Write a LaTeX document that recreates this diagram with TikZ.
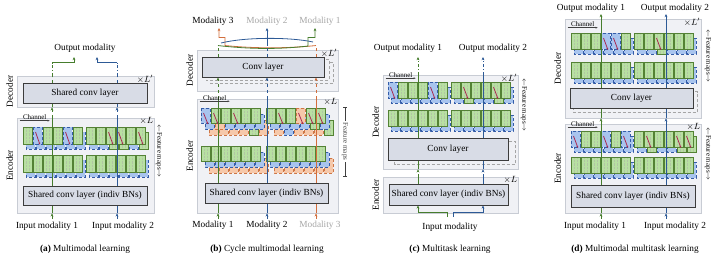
\documentclass[tikz,border=0pt]{standalone}
\usepackage{fontspec}
\setmainfont{Liberation Serif}
\usetikzlibrary{arrows.meta, positioning, calc}
\definecolor{FrameFill}{RGB}{240, 241, 245}
\definecolor{FrameLine}{RGB}{200, 204, 212}
\definecolor{ConvFill}{RGB}{216, 220, 230}
\definecolor{ConvLine}{RGB}{60, 60, 60}
\definecolor{ChanGreen}{RGB}{184, 224, 162}
\definecolor{EdgeGreen}{RGB}{84, 130, 53}
\definecolor{ChanBlue}{RGB}{168, 196, 238}
\definecolor{EdgeBlue}{RGB}{52, 92, 168}
\definecolor{ChanOrange}{RGB}{246, 200, 170}
\definecolor{EdgeOrange}{RGB}{206, 118, 70}
\definecolor{LineGreen}{RGB}{70, 125, 45}
\definecolor{LineBlue}{RGB}{45, 90, 150}
\definecolor{LineOrange}{RGB}{210, 110, 60}
\definecolor{SwapRed}{RGB}{170, 40, 80}
\definecolor{MutedGray}{RGB}{165, 165, 165}

\pgfdeclarelayer{bg}
\pgfdeclarelayer{mid}
\pgfsetlayers{bg,mid,main}

\tikzset{
  panelbox/.style={draw=FrameLine, fill=FrameFill, line width=0.6pt, inner sep=0pt},
  convbox/.style={draw=ConvLine, fill=ConvFill, line width=0.9pt, inner sep=0pt, font=\fontsize{9.3}{11}\selectfont},
  ghostbox/.style={draw=MutedGray, densely dashed, fill=FrameFill, line width=0.6pt},
  gc/.style={draw=EdgeGreen, fill=ChanGreen, line width=0.6pt,
    path picture={\draw[EdgeGreen!45, densely dotted, line width=0.4pt]
      ([xshift=-1.5pt]path picture bounding box.north) -- ([xshift=-1.5pt]path picture bounding box.south)
      ([xshift=1.5pt]path picture bounding box.north) -- ([xshift=1.5pt]path picture bounding box.south);}},
  bc/.style={draw=EdgeBlue, fill=ChanBlue, densely dashed, line width=0.6pt},
  oc/.style={draw=EdgeOrange, fill=ChanOrange, densely dashed, line width=0.6pt},
  nc/.style={draw=none},
  swaparrow/.style={draw=SwapRed, line width=0.8pt, -{Stealth[length=2.2pt,width=2pt]}},
  gline/.style={draw=LineGreen, line width=0.8pt},
  bline/.style={draw=LineBlue, line width=0.8pt},
  oline/.style={draw=LineOrange, line width=0.8pt},
  arrowtip/.style={-{Stealth[length=3.2pt,width=2.8pt]}},
  chanarrow/.style={draw=black!75, line width=0.5pt, -{Stealth[length=2.2pt]}},
  smalltext/.style={font=\fontsize{7}{8}\selectfont, inner sep=0.5pt},
  modtext/.style={font=\fontsize{9.3}{11}\selectfont, inner sep=1pt},
  sidetext/.style={font=\fontsize{9.3}{11}\selectfont, inner sep=1pt, rotate=90},
  repeatmark/.style={font=\fontsize{9}{10}\selectfont, inner sep=1pt, anchor=north east, yshift=2pt},
}

% one row of feature maps: x, y, list of front/middle/back channel styles
\newcommand{\fmaprow}[3]{%
  \foreach \f/\m/\k [count=\i from 0] in {#3}{\draw[\k] (#1+\i*10+2*\ox, #2+2*\oy) rectangle ++(9,\fh);}
  \foreach \f/\m/\k [count=\i from 0] in {#3}{\draw[\m] (#1+\i*10+\ox, #2+\oy) rectangle ++(9,\fh);}
  \foreach \f/\m/\k [count=\i from 0] in {#3}{\draw[\f] (#1+\i*10, #2) rectangle ++(9,\fh);}
}
\newcommand{\chanswaps}[3]{%
  \foreach \i in {#3}{\draw[swaparrow] (#1+\i*10+2.5, #2+5) -- ++(4.5,0.75*\fh);}
}

\begin{document}
\begin{tikzpicture}[x=1pt, y=-1pt]
  \useasboundingbox (0,0) rectangle (718,262);

  % (a)
  \node[convbox, minimum width=124pt, minimum height=20pt] (adec) at (85,93) {Shared conv layer};
  \node[convbox, minimum width=124pt, minimum height=19pt] (aenc) at (85,195.5) {Shared conv layer (indiv BNs)};
  \begin{pgfonlayer}{bg}
    \node[panelbox, minimum width=137pt, minimum height=31pt] (adecf) at (85.5,91.5) {};
    \node[panelbox, minimum width=137pt, minimum height=95pt] (aencf) at (85.5,165.5) {};
    \def\ox{3}\def\oy{5}\def\fh{17}
    \fmaprow{23}{127}{gc/bc/nc, bc/bc/nc, gc/bc/nc, gc/bc/nc, bc/bc/nc, gc/bc/nc}
    \fmaprow{86}{127}{gc/bc/nc, gc/bc/nc, gc/gc/nc, gc/gc/nc, gc/bc/nc, gc/gc/nc}
    \fmaprow{23}{155}{gc/bc/nc, gc/bc/nc, gc/bc/nc, gc/bc/nc, gc/bc/nc, gc/bc/nc}
    \fmaprow{86}{155}{gc/bc/nc, gc/bc/nc, gc/bc/nc, gc/bc/nc, gc/bc/nc, gc/bc/nc}
    \chanswaps{23}{127}{1,4}
    \chanswaps{86}{127}{2,3,5}
  \end{pgfonlayer}
  \node[modtext] (ain1) at (47,226) {Input modality 1};
  \node[modtext] (ain2) at (123,226) {Input modality 2};
  \node[modtext] (aout) at (85,48) {Output modality};
  \node[modtext] (acap) at (85,249) {\textbf{(a)} Multimodal learning};
  \node[sidetext] at ([xshift=-7pt]adecf.west) {Decoder};
  \node[sidetext] at ([xshift=-7pt]aencf.west) {Encoder};
  \node[repeatmark] at (adecf.north east) {$\times L'$};
  \node[repeatmark] at (aencf.north east) {$\times L$};
  \draw[chanarrow] ([shift={(3,3)}]aencf.north west) -- ++(30,0) node[smalltext, midway, above] {Channel};
  \node[smalltext, rotate=-90] (afm) at (159,151) {$\leftarrow$Feature maps$\rightarrow$};
  \coordinate (ag) at (52,219);
  \coordinate (ab) at (117,219);
  \coordinate (agout) at (74,57);
  \coordinate (about) at (97,57);
  \begin{pgfonlayer}{mid}
    \draw[gline, arrowtip] (ag) -- (ag |- aencf.south);
    \draw[gline] (ag |- aencf.south) -- (ag |- aencf.north);
    \draw[gline, dashed, arrowtip] (ag |- aencf.north) -- (ag |- adecf.south);
    \draw[gline, dashed] (ag |- adecf.south) -- (ag |- adecf.north);
    \draw[gline, dash dot] (ag |- adecf.north) -- ++(0,-13) coordinate (agt);
    \draw[gline, arrowtip] (agt) -| (agout);
    \draw[bline, arrowtip] (ab) -- (ab |- aencf.south);
    \draw[bline] (ab |- aencf.south) -- (ab |- aencf.north);
    \draw[bline, dashed, arrowtip] (ab |- aencf.north) -- (ab |- adecf.south);
    \draw[bline, dashed] (ab |- adecf.south) -- (ab |- adecf.north);
    \draw[bline, dash dot] (ab |- adecf.north) -- ++(0,-13) coordinate (abt);
    \draw[bline, arrowtip] (abt) -| (about);
  \end{pgfonlayer}

  % (b)
  \node[convbox, minimum width=122pt, minimum height=20pt] (bdec) at (263,67) {Conv layer};
  \node[convbox, minimum width=123pt, minimum height=20pt] (benc) at (266.5,193) {Shared conv layer (indiv BNs)};
  \begin{pgfonlayer}{bg}
    \node[panelbox, minimum width=141pt, minimum height=41pt] (bdecf) at (267.5,70.5) {};
    \node[panelbox, minimum width=141pt, minimum height=114pt] (bencf) at (267.5,156) {};
    \draw[ghostbox] ([shift={(9,6)}]bdec.north west) rectangle ([shift={(9,6)}]bdec.south east);
    \draw[ghostbox] ([shift={(4.5,3)}]bdec.north west) rectangle ([shift={(4.5,3)}]bdec.south east);
    \def\ox{4}\def\oy{6}\def\fh{15}
    \fmaprow{201}{108}{bc/bc/oc, gc/oc/oc, gc/bc/oc, gc/bc/oc, gc/bc/gc, gc/bc/oc}
    \fmaprow{266}{108}{gc/bc/oc, gc/bc/bc, gc/bc/oc, oc/bc/oc, gc/gc/oc, gc/bc/gc}
    \fmaprow{201}{146}{gc/bc/oc, gc/bc/oc, gc/bc/oc, gc/bc/oc, gc/bc/oc, gc/bc/oc}
    \fmaprow{266}{146}{gc/bc/oc, gc/bc/oc, gc/bc/oc, gc/bc/oc, gc/bc/oc, gc/bc/oc}
    \chanswaps{201}{108}{0,1,3}
    \chanswaps{266}{108}{1,3,4,5}
  \end{pgfonlayer}
  \node[modtext] (bin1) at (213,225) {Modality 1};
  \node[modtext] (bin2) at (267,225) {Modality 2};
  \node[modtext, text=MutedGray] (bin3) at (320,225) {Modality 3};
  \node[modtext] (bout3) at (213,21) {Modality 3};
  \node[modtext, text=MutedGray] (bout2) at (267,21) {Modality 2};
  \node[modtext, text=MutedGray] (bout1) at (320,21) {Modality 1};
  \node[modtext] (bcap) at (267,249) {\textbf{(b)} Cycle multimodal learning};
  \node[sidetext] at ([xshift=-7pt]bdecf.west) {Decoder};
  \node[sidetext] at ([xshift=-7pt]bencf.west) {Encoder};
  \node[repeatmark] at (bdecf.north east) {$\times L'$};
  \node[repeatmark] at (bencf.north east) {$\times L$};
  \draw[chanarrow] ([shift={(3,2.5)}]bencf.north west) -- ++(30,0) node[smalltext, midway, above] {Channel};
  \draw[black!75, line width=0.5pt, {Bar[width=4pt]}-{Bar[width=4pt]}] (345,107) -- (345,176)
    node[smalltext, midway, rotate=-90, fill=white, inner sep=1.5pt] (bfm) {Feature maps};
  \coordinate (bg) at (218,219);
  \coordinate (bb) at (267,219);
  \coordinate (bo) at (316,219);
  \coordinate (bgout) at (315,28);
  \coordinate (bbout) at (267,28);
  \coordinate (boout) at (219,28);
  \coordinate (bba) at (221,43);
  \coordinate (bbb) at (313,42);
  \begin{pgfonlayer}{mid}
    \draw[oline, arrowtip] (bo) -- (bo |- bencf.south);
    \draw[oline] (bo |- bencf.south) -- (bo |- bencf.north);
    \draw[oline, dashed, arrowtip] (bo |- bencf.north) -- (bo |- bdec.south);
    \draw[oline, dashed] (bo |- bdec.north) -- ++(0,-11) coordinate (bo1);
    \draw[oline, arrowtip] (bo1) .. controls +(-30,3) and +(30,3) .. ++(-91,0) -- ++(0,-8) -| (boout);
    \draw[gline, arrowtip] (bg) -- (bg |- bencf.south);
    \draw[gline] (bg |- bencf.south) -- (bg |- bencf.north);
    \draw[gline, dashed, arrowtip] (bg |- bencf.north) -- (bg |- bdec.south);
    \draw[gline, dashed] (bg |- bdec.north) -- ++(0,-11) coordinate (bg1);
    \draw[gline, arrowtip] (bg1) .. controls +(30,3.5) and +(-30,3.5) .. ++(90,0.5) -- ++(0,-8.5) -| (bgout);
    \draw[bline, arrowtip] (bb) -- (bb |- bencf.south);
    \draw[bline] (bb |- bencf.south) -- (bb |- bencf.north);
    \draw[bline, dashed, arrowtip] (bb |- bencf.north) -- (bb |- bdec.south);
    \draw[bline, dashed] (bb |- bdec.north) -- ++(0,-11) coordinate (bb1);
    \draw[bline, arrowtip] (bb1) -- (bbout);
    \draw[bline] (bba) .. controls (245,37) and (290,37) .. (bbb);
  \end{pgfonlayer}

  % (c)
  \node[convbox, minimum width=120pt, minimum height=22pt] (cdec) at (448,149) {Conv layer};
  \node[convbox, minimum width=119pt, minimum height=21pt] (cenc) at (448.5,194.5) {Shared conv layer (indiv BNs)};
  \begin{pgfonlayer}{bg}
    \node[panelbox, minimum width=135pt, minimum height=94pt] (cdecf) at (450.5,122) {};
    \node[panelbox, minimum width=135pt, minimum height=36pt] (cencf) at (450.5,195) {};
    \draw[ghostbox] ([shift={(7,4)}]cdec.north west) rectangle ([shift={(7,4)}]cdec.south east);
    \def\ox{3}\def\oy{5}\def\fh{16}
    \fmaprow{388}{82}{bc/bc/nc, gc/bc/nc, gc/bc/nc, gc/bc/nc, bc/bc/nc, gc/bc/nc}
    \fmaprow{451}{82}{gc/bc/nc, gc/gc/nc, gc/bc/nc, gc/bc/nc, gc/gc/nc, gc/bc/nc}
    \fmaprow{388}{110}{gc/bc/nc, gc/bc/nc, gc/bc/nc, gc/bc/nc, gc/bc/nc, gc/bc/nc}
    \fmaprow{451}{110}{gc/bc/nc, gc/bc/nc, gc/bc/nc, gc/bc/nc, gc/bc/nc, gc/bc/nc}
    \chanswaps{388}{82}{0,4}
    \chanswaps{451}{82}{1,4}
  \end{pgfonlayer}
  \node[modtext] (cin) at (450,227) {Input modality};
  \node[modtext] (cout1) at (408,48) {Output modality 1};
  \node[modtext] (cout2) at (493,48) {Output modality 2};
  \node[modtext] (ccap) at (450,249) {\textbf{(c)} Multitask learning};
  \node[sidetext] at ([xshift=-7pt]cdecf.west) {Decoder};
  \node[sidetext] at ([xshift=-7pt]cencf.west) {Encoder};
  \node[repeatmark] at (cdecf.north east) {$\times L'$};
  \node[repeatmark] at (cencf.north east) {$\times L$};
  \draw[chanarrow] ([shift={(3,3.5)}]cdecf.north west) -- ++(30,0) node[smalltext, midway, above] {Channel};
  \node[smalltext, rotate=-90] (cfm) at (524,105) {$\leftarrow$Feature maps$\rightarrow$};
  \coordinate (cgout) at (418,57);
  \coordinate (cbout) at (483,57);
  \coordinate (cg0) at (cenc.south -| cgout);
  \coordinate (cb0) at (cenc.south -| cbout);
  \begin{pgfonlayer}{mid}
    \draw[gline, arrowtip] ([shift={(-3,-4.5)}]cin.north) -- ++(0,-5) -| (cg0);
    \draw[gline] (cg0) -- (cgout |- cencf.north);
    \draw[gline, dashed, arrowtip] (cgout |- cencf.north) -- (cgout |- cdecf.south);
    \draw[gline] (cgout |- cdecf.south) -- (cgout |- cdecf.north);
    \draw[gline, dash dot, arrowtip] (cgout |- cdecf.north) -- (cgout);
    \draw[bline, arrowtip] ([shift={(3,-4.5)}]cin.north) -- ++(0,-5) -| (cb0);
    \draw[bline] (cb0) -- (cbout |- cencf.north);
    \draw[bline, dashed, arrowtip] (cbout |- cencf.north) -- (cbout |- cdecf.south);
    \draw[bline] (cbout |- cdecf.south) -- (cbout |- cdecf.north);
    \draw[bline, dash dot, arrowtip] (cbout |- cdecf.north) -- (cbout);
  \end{pgfonlayer}

  % (d)
  \node[convbox, minimum width=123pt, minimum height=20pt] (ddec) at (631.5,98) {Conv layer};
  \node[convbox, minimum width=124pt, minimum height=22pt] (denc) at (633,196) {Shared conv layer (indiv BNs)};
  \begin{pgfonlayer}{bg}
    \node[panelbox, minimum width=136pt, minimum height=99pt] (ddecf) at (633,68.5) {};
    \node[panelbox, minimum width=136pt, minimum height=89pt] (dencf) at (633,168.5) {};
    \draw[ghostbox] ([shift={(4,4)}]ddec.north west) rectangle ([shift={(4,4)}]ddec.south east);
    \def\ox{3}\def\oy{5}\def\fh{16}
    \fmaprow{571}{33}{gc/bc/nc, gc/bc/nc, gc/bc/nc, bc/bc/nc, bc/bc/nc, gc/bc/nc}
    \fmaprow{634}{33}{gc/bc/nc, gc/bc/nc, gc/gc/nc, gc/bc/nc, gc/bc/nc, gc/bc/nc}
    \fmaprow{571}{62}{gc/bc/nc, gc/bc/nc, gc/bc/nc, gc/bc/nc, gc/bc/nc, gc/bc/nc}
    \fmaprow{634}{62}{gc/bc/nc, gc/bc/nc, gc/bc/nc, gc/bc/nc, gc/bc/nc, gc/bc/nc}
    \chanswaps{571}{33}{3,4}
    \chanswaps{634}{33}{2}
    \fmaprow{571}{131}{bc/bc/nc, gc/bc/nc, gc/bc/nc, bc/bc/nc, gc/bc/nc, bc/bc/nc}
    \fmaprow{634}{131}{gc/bc/nc, gc/gc/nc, gc/bc/nc, gc/bc/nc, gc/gc/nc, gc/gc/nc}
    \fmaprow{571}{157}{gc/bc/nc, gc/bc/nc, gc/bc/nc, gc/bc/nc, gc/bc/nc, gc/bc/nc}
    \fmaprow{634}{157}{gc/bc/nc, gc/bc/nc, gc/bc/nc, gc/bc/nc, gc/bc/nc, gc/bc/nc}
    \chanswaps{571}{131}{0,3,5}
    \chanswaps{634}{131}{1,4,5}
  \end{pgfonlayer}
  \node[modtext] (din1) at (595,226) {Input modality 1};
  \node[modtext] (din2) at (675,226) {Input modality 2};
  \node[modtext] (dout1) at (591,8) {Output modality 1};
  \node[modtext] (dout2) at (675,8) {Output modality 2};
  \node[modtext] (dcap) at (635,249) {\textbf{(d)} Multimodal multitask learning};
  \node[sidetext] at ([xshift=-7pt]ddecf.west) {Decoder};
  \node[sidetext] at ([xshift=-7pt]dencf.west) {Encoder};
  \node[repeatmark] at (ddecf.north east) {$\times L'$};
  \node[repeatmark] at (dencf.north east) {$\times L$};
  \draw[chanarrow] ([shift={(3,9)}]ddecf.north west) -- ++(30,0) node[smalltext, midway, above] {Channel};
  \draw[chanarrow] ([shift={(3,3.5)}]dencf.north west) -- ++(30,0) node[smalltext, midway, above] {Channel};
  \node[smalltext, rotate=-90] (dfm1) at (708,56) {$\leftarrow$Feature maps$\rightarrow$};
  \node[smalltext, rotate=-90] (dfm2) at (708,154) {$\leftarrow$Feature maps$\rightarrow$};
  \coordinate (dg) at (601,219);
  \coordinate (db) at (666,219);
  \coordinate (dgout) at (601,14);
  \coordinate (dbout) at (666,14);
  \begin{pgfonlayer}{mid}
    \draw[gline, arrowtip] (dg) -- (dg |- dencf.south);
    \draw[gline] (dg |- dencf.south) -- (dg |- dencf.north);
    \draw[gline, dashed, arrowtip] (dg |- dencf.north) -- (dg |- ddecf.south);
    \draw[gline] (dg |- ddecf.south) -- (dg |- ddecf.north);
    \draw[gline, dashed, arrowtip] (dg |- ddecf.north) -- (dgout);
    \draw[bline, arrowtip] (db) -- (db |- dencf.south);
    \draw[bline] (db |- dencf.south) -- (db |- dencf.north);
    \draw[bline, dashed, arrowtip] (db |- dencf.north) -- (db |- ddecf.south);
    \draw[bline] (db |- ddecf.south) -- (db |- ddecf.north);
    \draw[bline, dashed, arrowtip] (db |- ddecf.north) -- (dbout);
  \end{pgfonlayer}
\end{tikzpicture}
\end{document}
